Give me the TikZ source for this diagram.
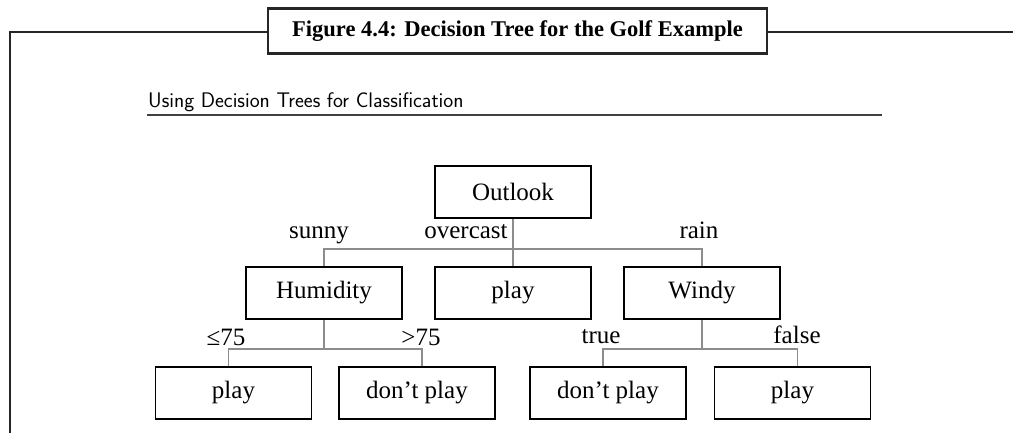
\documentclass[tikz,border=0pt]{standalone}
\usepackage{fontspec}
\setmainfont{Liberation Serif}
\usetikzlibrary{calc}
\tikzset{
  treebox/.style={draw=black, line width=1.3pt, minimum width=156pt, minimum height=52pt, inner sep=0pt, font=\fontsize{25}{30}\selectfont},
  lbl/.style={inner sep=0pt, anchor=base, font=\fontsize{25}{30}\selectfont},
  conn/.style={draw=black!45, line width=1.6pt},
  frameline/.style={draw=black!85, line width=2.2pt},
}
\begin{document}
\begin{tikzpicture}[x=1pt,y=-1pt]
\useasboundingbox (0,0) rectangle (1013,433);
% title and frame
\node[draw=black!85, line width=2.2pt, minimum width=499pt, minimum height=45pt, inner sep=0pt,
      font=\fontsize{22.5}{26}\selectfont\bfseries] (title) at (517.5,31) {Figure 4.4: Decision Tree for the Golf Example};
\coordinate (fl) at (10,440);
\coordinate (fr) at (1016,32);
\draw[frameline] (fl) |- (title.west |- fr);
\draw[frameline] (title.east |- fr) -- (fr);
% header
\node[inner sep=0pt, anchor=base west, font=\sffamily\fontsize{21.1}{25}\selectfont] (head) at (148,108) {Using Decision Trees for Classification};
\coordinate (ul) at (147,115);
\coordinate (ur) at (882,115);
\draw[draw=black!75, line width=2pt] (ul) -- (ur);
% tree nodes
\node[treebox] (outlook) at (513,192) {Outlook};
\node[treebox] (hum) at (324,293) {Humidity};
\node[treebox] (play0) at (513,293) {play};
\node[treebox] (windy) at (702,293) {Windy};
\node[treebox] (p1) at (233.5,393) {play};
\node[treebox] (dp1) at (417,393) {don’t play};
\node[treebox] (dp2) at (608,393) {don’t play};
\node[treebox] (p2) at (792.5,393) {play};
% bars and attachment points
\coordinate (bar1) at (0,249);
\coordinate (bar2) at (0,349);
\coordinate (p1t) at ([xshift=-5pt]p1.north);
\coordinate (dp1t) at ([xshift=5pt]dp1.north);
\coordinate (dp2t) at ([xshift=-5pt]dp2.north);
\coordinate (p2t) at ([xshift=5pt]p2.north);
% connectors level 1
\draw[conn] (outlook.south) -- (play0.north);
\draw[conn] (hum.north) |- (bar1 -| windy.north) -- (windy.north);
% connectors level 2
\draw[conn] (hum.south) -- (hum.south |- bar2);
\draw[conn] (p1t) |- (bar2 -| dp1t) -- (dp1t);
\draw[conn] (windy.south) -- (windy.south |- bar2);
\draw[conn] (dp2t) |- (bar2 -| p2t) -- (p2t);
% labels
\node[lbl] (lsunny) at (319,238) {sunny};
\node[lbl] (lover) at (466,238) {overcast};
\node[lbl] (lrain) at (699,238) {rain};
\node[lbl] (lle) at (226,345) {≤75};
\node[lbl] (lgt) at (421,345) {>75};
\node[lbl] (ltrue) at (601,343) {true};
\node[lbl] (lfalse) at (797,343) {false};
\end{tikzpicture}
\end{document}
